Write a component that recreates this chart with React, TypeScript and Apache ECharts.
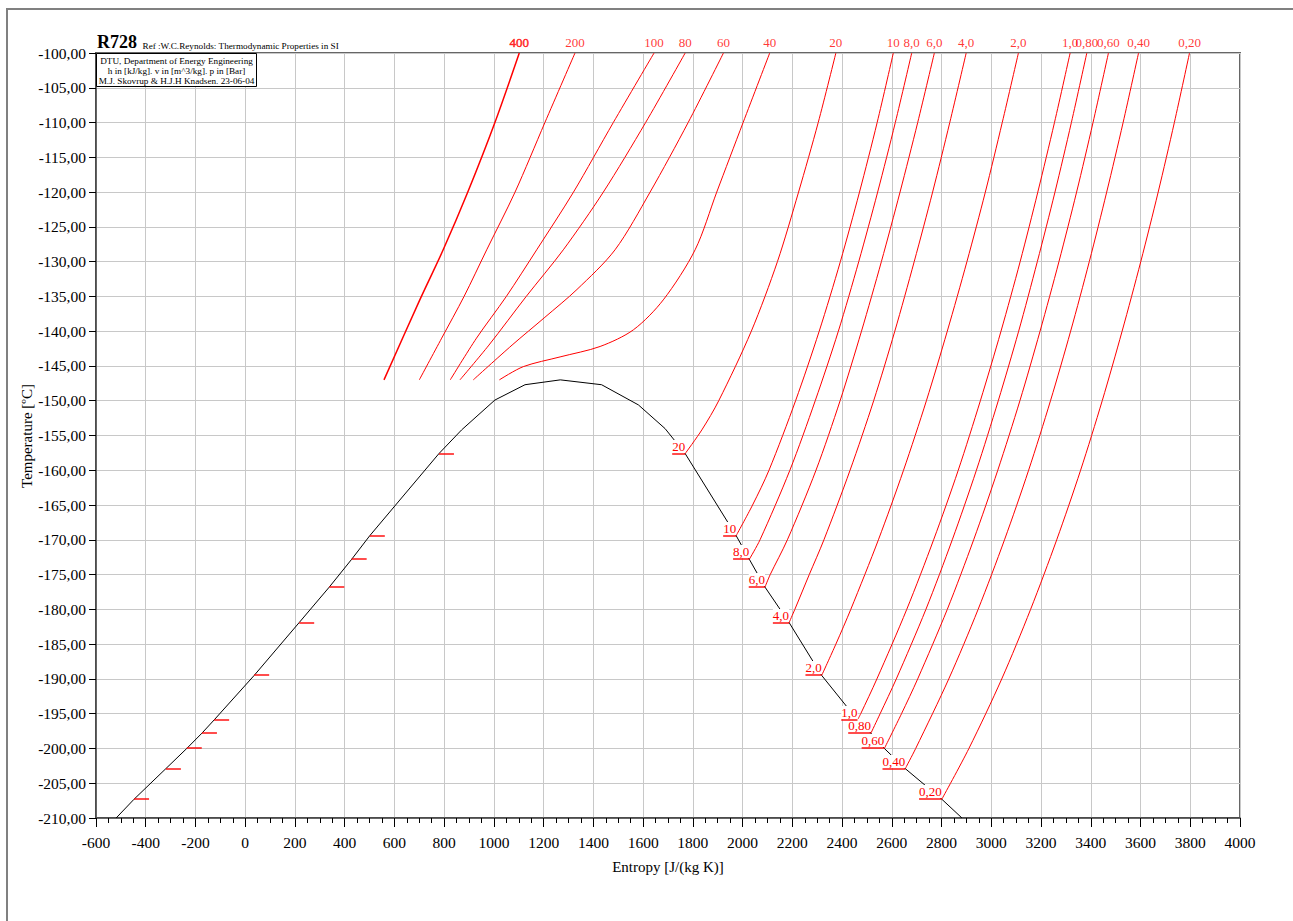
import React, { useEffect, useRef } from 'react';
import * as echarts from 'echarts';

// ---- axes ----
const X_MIN = -600, X_MAX = 4000, X_STEP = 200;
const Y_MIN = -210, Y_MAX = -100, Y_STEP = 5;

// ---- saturation (pressure labels in bar) ----
const pressureLabels = ['0,20', '0,40', '0,60', '0,80', '1,0', '2,0', '4,0', '6,0', '8,0', '10', '20'];
const satTemps = [-207.3, -202.9, -200.0, -197.8, -195.9, -189.5, -181.9, -176.8, -172.8, -169.4, -157.6];
const satLiquidS = [-447, -319, -235, -174, -125, 36, 217, 338, 428, 501, 779];
const satVaporS = [2801, 2654, 2570, 2516, 2462, 2318, 2187, 2090, 2027, 1974, 1769];

// saturation dome (entropy, temperature)
const domeS = [-519, -447, -319, -235, -174, -125, 36, 217, 338, 428, 501, 779, 870, 1004, 1125, 1267, 1433, 1581, 1688, 1769, 1974, 2027, 2090, 2187, 2318, 2462, 2516, 2570, 2654, 2801, 2882];
const domeT = [-210, -207.3, -202.9, -200.0, -197.8, -195.9, -189.5, -181.9, -176.8, -172.8, -169.4, -157.6, -154.2, -149.9, -147.7, -147.0, -147.7, -150.6, -154.0, -157.6, -169.4, -172.8, -176.8, -181.9, -189.5, -195.9, -197.8, -200.0, -202.9, -207.3, -210];

// ---- isobars [entropy, temperature] ----
const p400 = [[558, -147], [702, -135.5], [796, -128.3], [895, -120], [1004, -110], [1102, -100]];
const p200 = [[700, -147], [790, -141], [880, -135], [971, -128.3], [1085, -120], [1205, -110], [1326, -100]];
const p100 = [[824.5, -147], [930, -141], [1050, -135], [1172, -128.3], [1320, -120], [1480, -110], [1644, -100]];
const p80 = [[863.5, -147], [980, -142], [1130, -135], [1279, -128.3], [1440, -120], [1610, -110], [1769, -100]];
const p60 = [[917, -147], [1073, -142], [1205, -138], [1334, -134], [1487, -128.3], [1628, -120], [1781, -110], [1923, -100]];
const p40 = [[1022, -147], [1118, -145.1], [1266, -143.7], [1427, -142.2], [1561, -139.8], [1681, -135.5], [1809, -128.3], [1896, -120], [2002, -110], [2109, -100]];
const p20 = [[1769, -157.6], [1836, -154.2], [1904, -150], [2035, -140], [2140, -130], [2225, -120], [2304, -110], [2375, -100]];
const p10 = [[1974, -169.4], [2040, -165], [2106, -160], [2213, -150], [2308, -140], [2393, -130], [2470, -120], [2541, -110], [2606, -100]];
const p8 = [[2027, -172.8], [2070, -170], [2190, -160], [2292, -150], [2385, -140], [2467, -130], [2543, -120], [2614, -110], [2680, -100]];
const p6 = [[2090, -176.8], [2111, -175], [2180, -170], [2295, -160], [2392, -150], [2478, -140], [2558, -130], [2633, -120], [2704, -110], [2771, -100]];
const p4 = [[2187, -181.9], [2210, -180], [2268, -175], [2327, -170], [2432, -160], [2527, -150], [2612, -140], [2690, -130], [2764, -120], [2833, -110], [2899, -100]];
const p2 = [[2318, -189.5], [2375, -185], [2435, -180], [2546, -170], [2647, -160], [2739, -150], [2823, -140], [2902, -130], [2976, -120], [3044, -110], [3109, -100]];
const p1 = [[2462, -195.9], [2475, -195], [2540, -190], [2660, -180], [2768, -170], [2867, -160], [2956, -150], [3039, -140], [3116, -130], [3187, -120], [3254, -110], [3317, -100]];
const p08 = [[2516, -197.8], [2553, -195], [2618, -190], [2737, -180], [2843, -170], [2940, -160], [3028, -150], [3110, -140], [3185, -130], [3256, -120], [3322, -110], [3384, -100]];
const p06 = [[2570, -200.0], [2639, -195], [2704, -190], [2823, -180], [2929, -170], [3026, -160], [3115, -150], [3196, -140], [3272, -130], [3343, -120], [3409, -110], [3471, -100]];
const p04 = [[2654, -202.9], [2696, -200], [2829, -190], [2947, -180], [3053, -170], [3150, -160], [3238, -150], [3319, -140], [3394, -130], [3464, -120], [3530, -110], [3592, -100]];
const p02 = [[2801, -207.3], [2910, -200], [3042, -190], [3158, -180], [3263, -170], [3359, -160], [3446, -150], [3526, -140], [3601, -130], [3671, -120], [3736, -110], [3797, -100]];

const isobarLabels = ['400', '200', '100', '80', '60', '40', '20', '10', '8,0', '6,0', '4,0', '2,0', '1,0', '0,80', '0,60', '0,40', '0,20'];
const isobarLines = [p400, p200, p100, p80, p60, p40, p20, p10, p8, p6, p4, p2, p1, p08, p06, p04, p02];

const SERIF = '"Liberation Serif", "Times New Roman", serif';
const RED = '#ff0000';

function measure(text: string, font: string): number {
  const c = document.createElement('canvas').getContext('2d');
  if (!c) return text.length * 6.5;
  c.font = font;
  return c.measureText(text).width;
}

export default function App() {
  const ref = useRef<HTMLDivElement>(null);
  useEffect(() => {
    if (!ref.current) return;
    const chart = echarts.init(ref.current, undefined, { renderer: 'svg' });
    const labelFont = `13px ${SERIF}`;

    const series: any[] = [];
    isobarLines.forEach((pts, i) => {
      series.push({
        type: 'line',
        name: 'p' + isobarLabels[i],
        data: pts,
        symbol: 'none',
        smooth: 0.3,
        lineStyle: { color: RED, width: i === 0 ? 1.5 : 1 },
        z: 2,
        silent: true,
      });
    });
    series.push({
      type: 'line',
      name: 'saturation',
      data: domeS.map((s, i) => [s, domeT[i]]),
      symbol: 'none',
      lineStyle: { color: '#000', width: 1 },
      z: 3,
      silent: true,
    });
    // liquid-side marks
    series.push({
      type: 'custom',
      name: 'liquidMarks',
      data: satLiquidS.map((s, i) => [s, satTemps[i]]),
      renderItem: (params: any, api: any) => {
        const p = api.coord([api.value(0), api.value(1)]);
        const y = Math.round(p[1]);
        return {
          type: 'line',
          shape: { x1: p[0], y1: y, x2: p[0] + 15, y2: y },
          style: { stroke: RED, lineWidth: 1.4 },
        };
      },
      z: 6,
      silent: true,
    });
    // vapour-side labels with underline
    series.push({
      type: 'custom',
      name: 'vaporLabels',
      data: satVaporS.map((s, i) => [s, satTemps[i]]),
      renderItem: (params: any, api: any) => {
        const p = api.coord([api.value(0), api.value(1)]);
        const text = pressureLabels[params.dataIndex];
        const w = measure(text, labelFont);
        const y = Math.round(p[1]);
        return {
          type: 'group',
          children: [
            {
              type: 'text',
              x: p[0],
              y: y - 1,
              style: {
                text,
                fill: RED,
                font: labelFont,
                textAlign: 'right',
                textVerticalAlign: 'bottom',
                align: 'right',
                verticalAlign: 'bottom',
                backgroundColor: '#fff',
              },
              z2: 10,
            },
            {
              type: 'line',
              shape: { x1: p[0] - w, y1: y, x2: p[0], y2: y },
              style: { stroke: RED, lineWidth: 1.4 },
              z2: 11,
            },
          ],
        };
      },
      z: 5,
      silent: true,
    });
    // top labels
    series.push({
      type: 'scatter',
      name: 'topLabels',
      data: isobarLines.map((pts, i) => ({
        value: pts[pts.length - 1],
        name: isobarLabels[i],
        label: i === 0 ? { textBorderColor: RED, textBorderWidth: 0.5 } : undefined,
      })),
      symbolSize: 0,
      label: {
        show: true,
        position: 'top',
        distance: 4,
        formatter: (p: any) => p.name,
        color: RED,
        fontFamily: SERIF,
        fontSize: 13,
      },
      z: 6,
      silent: true,
    });

    const option: any = {
      animation: false,
      backgroundColor: '#fff',
      grid: { left: 96, right: 53, top: 53, bottom: 103, show: true, borderColor: '#666', borderWidth: 2, containLabel: false },
      xAxis: {
        type: 'value',
        min: X_MIN,
        max: X_MAX,
        interval: X_STEP,
        name: 'Entropy [J/(kg K)]',
        nameLocation: 'middle',
        nameGap: 41,
        nameTextStyle: { fontFamily: SERIF, fontSize: 15, color: '#000' },
        axisLine: { onZero: false, lineStyle: { color: '#444', width: 1.5 } },
        axisTick: { show: true, length: 9, lineStyle: { color: '#000' } },
        minorTick: { show: true, splitNumber: 4, length: 5, lineStyle: { color: '#000' } },
        axisLabel: { margin: 16, fontFamily: SERIF, fontSize: 15.5, color: '#000', formatter: (v: number) => String(v) },
        splitLine: { show: true, lineStyle: { color: '#c8c8c8', width: 1 } },
      },
      yAxis: {
        type: 'value',
        min: Y_MIN,
        max: Y_MAX,
        interval: Y_STEP,
        axisLine: { onZero: false, lineStyle: { color: '#444', width: 1.5 } },
        axisTick: { show: true, length: 7, lineStyle: { color: '#000' } },
        axisLabel: {
          margin: 10,
          fontFamily: SERIF,
          fontSize: 15.5,
          color: '#000',
          formatter: (v: number) => v.toFixed(2).replace('.', ','),
        },
        splitLine: { show: true, lineStyle: { color: '#c8c8c8', width: 1 } },
      },
      graphic: [
        {
          type: 'rect',
          shape: { x: 7, y: 9, width: 1400, height: 1000 },
          style: { fill: 'none', stroke: '#808080', lineWidth: 2 },
          z: -10,
          silent: true,
        },
        {
          type: 'text',
          x: 27,
          y: 436,
          rotation: Math.PI / 2,
          style: { text: 'Temperature [ºC]', font: `15px ${SERIF}`, fill: '#000', textAlign: 'center', textVerticalAlign: 'middle', align: 'center', verticalAlign: 'middle' },
          z: 20,
        },
        {
          type: 'text',
          x: 97,
          y: 51,
          style: { text: 'R728', font: `bold 18px ${SERIF}`, fill: '#000', textAlign: 'left', textVerticalAlign: 'bottom', align: 'left', verticalAlign: 'bottom' },
          z: 20,
        },
        {
          type: 'text',
          x: 142.5,
          y: 50.5,
          style: { text: 'Ref :W.C.Reynolds: Thermodynamic Properties in SI', font: `9.2px ${SERIF}`, fill: '#000', textAlign: 'left', textVerticalAlign: 'bottom', align: 'left', verticalAlign: 'bottom' },
          z: 20,
        },
        {
          type: 'rect',
          shape: { x: 96.5, y: 53.5, width: 160, height: 33 },
          style: { fill: '#fff', stroke: '#000', lineWidth: 1 },
          z: 20,
        },
        {
          type: 'text',
          x: 176.5,
          y: 60.5,
          style: { text: 'DTU, Department of Energy Engineering', font: `9.2px ${SERIF}`, fill: '#000', textAlign: 'center', textVerticalAlign: 'middle', align: 'center', verticalAlign: 'middle' },
          z: 21,
        },
        {
          type: 'text',
          x: 176.5,
          y: 70.5,
          style: { text: 'h in [kJ/kg]. v in [m^3/kg]. p in [Bar]', font: `9.2px ${SERIF}`, fill: '#000', textAlign: 'center', textVerticalAlign: 'middle', align: 'center', verticalAlign: 'middle' },
          z: 21,
        },
        {
          type: 'text',
          x: 176.5,
          y: 80.5,
          style: { text: 'M.J. Skovrup & H.J.H Knadsen. 23-06-04', font: `9.2px ${SERIF}`, fill: '#000', textAlign: 'center', textVerticalAlign: 'middle', align: 'center', verticalAlign: 'middle' },
          z: 21,
        },
      ],
      series,
    };
    chart.setOption(option);
    return () => chart.dispose();
  }, []);

  return (
    <div
      ref={ref}
      style={{ position: 'fixed', left: 0, top: 0, width: 1293, height: 921, background: '#fff' }}
    />
  );
}
